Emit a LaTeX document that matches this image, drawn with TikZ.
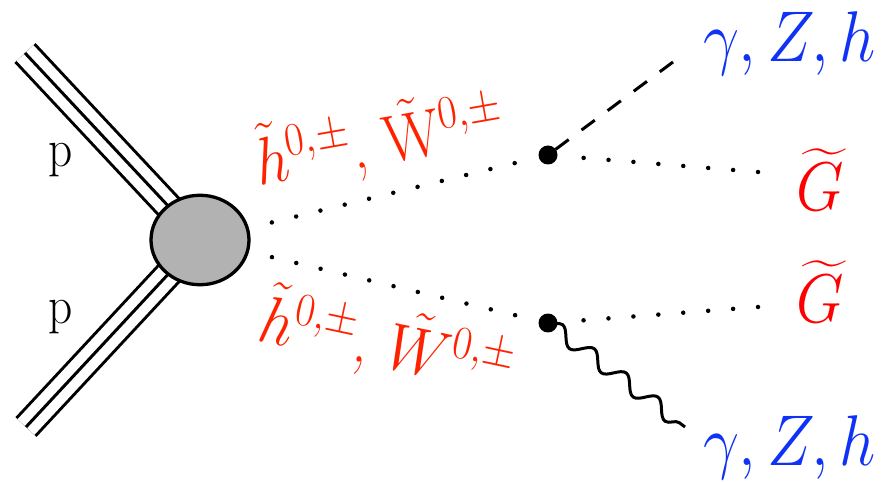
\RequirePackage{fix-cm}
\documentclass[tikz,border=0pt]{standalone}
\usepackage{amsmath}
\usepackage{graphicx}
\usetikzlibrary{shapes.geometric,decorations.pathmorphing}
\definecolor{lblred}{RGB}{255,34,0}
\definecolor{gred}{RGB}{255,0,0}
\definecolor{lblblue}{RGB}{15,50,245}
\newcommand{\vst}[1]{\scalebox{1}[1.12]{#1}}
\begin{document}
\begin{tikzpicture}[x=0.02cm,y=-0.02cm,
  proton/.style={line width=0.06cm},
  dotline/.style={line width=0.09cm, line cap=round, dash pattern=on 0cm off 0.5cm},
  dashline/.style={line width=0.06cm, dash pattern=on 0.33cm off 0.32cm},
  wavy/.style={line width=0.06cm, decorate, decoration={snake, segment length=0.8cm, amplitude=0.15cm}},
  vtx/.style={circle, fill=black, minimum size=0.38cm, inner sep=0pt, outer sep=0pt},
  txt/.style={inner sep=0pt, outer sep=0pt, anchor=base west}]
\useasboundingbox (0,0) rectangle (881,482);
% coordinates
\coordinate (c) at (200,240);
\coordinate (p1) at (25,53);
\coordinate (p2) at (26,427);
\coordinate (d1) at (673,62);
\coordinate (g1) at (758,172);
\coordinate (g2) at (758,307);
\coordinate (w2) at (685,427);
% proton lines
\draw[proton, double, double distance=0.46cm] (p1) -- (c);
\draw[proton] (p1) -- (c);
\draw[proton, double, double distance=0.46cm] (p2) -- (c);
\draw[proton] (p2) -- (c);
% blob
\node[ellipse, draw, line width=0.066cm, fill=black!30, minimum width=1.96cm, minimum height=1.79cm, inner sep=0pt, outer sep=0pt] (blob) at (c) {};
% vertices
\node[vtx] (v1) at (548,155) {};
\node[vtx] (v2) at (548,323) {};
% dotted lines
\draw[dotline, shorten <=1.48cm, shorten >=0.5cm] (blob.center) -- (v1.center);
\draw[dotline, shorten <=1.48cm, shorten >=0.5cm] (blob.center) -- (v2.center);
\draw[dotline, shorten >=0.3cm] (g1) -- (v1.center);
\draw[dotline, shorten >=0.3cm] (g2) -- (v2.center);
% dashed and wavy
\draw[dashline] (d1) -- (v1.center);
\draw[wavy] (v2.center) -- (w2);
% labels
\node[txt, font=\fontsize{27}{31}\selectfont] (pt) at (48,167) {\vst{p}};
\node[txt, font=\fontsize{27}{31}\selectfont] (pb) at (48,324) {\vst{p}};
\node[txt, text=lblred, rotate=10, font=\fontsize{34}{39}\selectfont] (lt) at (259,186) {\vst{$\tilde h^{0,\pm}$, $\tilde{\mathrm{W}}^{0,\pm}$}};
\node[txt, text=lblred, rotate=-12, font=\fontsize{34}{39}\selectfont] (lb) at (256,340) {\vst{$\tilde h^{0,\pm}$, $\tilde W^{0,\pm}$}};
\node[txt, text=gred, font=\fontsize{35}{40}\selectfont] (gt) at (796,211) {\vst{$\widetilde{G}$}};
\node[txt, text=gred, font=\fontsize{35}{40}\selectfont] (gb) at (796,323) {\vst{$\widetilde{G}$}};
\node[txt, text=lblblue, font=\fontsize{36.5}{42}\selectfont] (zt) at (703,62) {\vst{$\gamma, Z, h$}};
\node[txt, text=lblblue, font=\fontsize{36.5}{42}\selectfont] (zb) at (703,465) {\vst{$\gamma, Z, h$}};
\end{tikzpicture}
\end{document}
